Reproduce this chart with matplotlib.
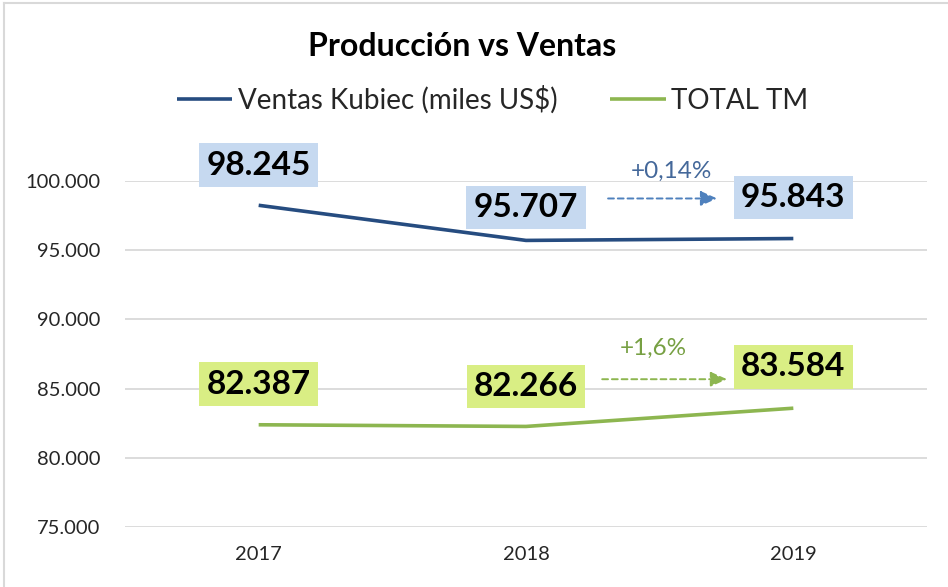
import matplotlib
matplotlib.use("Agg")
import matplotlib.pyplot as plt
from matplotlib.lines import Line2D

plt.rcParams['font.family'] = ['Lato', 'DejaVu Sans']

years = ["2017", "2018", "2019"]
ventas = [98245, 95707, 95843]
total_tm = [82387, 82266, 83584]
ventas_labels = ["98.245", "95.707", "95.843"]
tm_labels = ["82.387", "82.266", "83.584"]
yticks = [75000, 80000, 85000, 90000, 95000, 100000]
ytick_labels = ["75.000", "80.000", "85.000", "90.000", "95.000", "100.000"]
ventas_change = "+0,14%"
tm_change = "+1,6%"

navy = "#264C80"
green = "#8DB650"
blue_box = "#C6D9F0"
green_box = "#D9EE84"
blue_arrow = "#4F81BD"
green_arrow = "#8DB650"

fig = plt.figure(figsize=(9.48, 5.87), dpi=100)
ax = fig.add_axes([125/948, 1-527/587, 802/948, (527-181)/587])

x = list(range(len(years)))
l1, = ax.plot(x, ventas, color=navy, lw=2.6, solid_capstyle='butt', label="Ventas Kubiec (miles US$)")
l2, = ax.plot(x, total_tm, color=green, lw=2.6, solid_capstyle='butt', label="TOTAL TM")

ax.set_xlim(-0.5, 2.5)
ax.set_ylim(75000, 100000)
ax.set_yticks(yticks)
ax.set_yticklabels(ytick_labels)
ax.set_xticks(x)
ax.set_xticklabels(years)
ax.tick_params(axis='y', length=0, pad=18, labelsize=14.5, colors="#262626")
ax.tick_params(axis='x', length=0, pad=14, labelsize=14.5, colors="#262626")
ax.grid(axis='y', color="#D9D9D9", lw=1.3)
ax.set_axisbelow(True)
for s in ax.spines.values():
    s.set_visible(False)

v_off = [40, 33, 41]
t_off = [40.5, 40, 41.5]
for i in x:
    ax.annotate(ventas_labels[i], (i, ventas[i]), xytext=(0, v_off[i]), textcoords='offset pixels',
                ha='center', va='center', fontsize=24, fontweight='bold', color="black",
                bbox=dict(boxstyle='square,pad=0.22', fc=blue_box, ec='none'), annotation_clip=False)
    ax.annotate(tm_labels[i], (i, total_tm[i]), xytext=(0, t_off[i]), textcoords='offset pixels',
                ha='center', va='center', fontsize=24, fontweight='bold', color="black",
                bbox=dict(boxstyle='square,pad=0.22', fc=green_box, ec='none'), annotation_clip=False)

# change arrows
ax.annotate("", xy=(1.715, 98737), xytext=(1.307, 98737),
            arrowprops=dict(arrowstyle='-|>,head_length=1.0,head_width=0.45', color=blue_arrow, lw=1.4,
                            linestyle=(0, (3, 2)), shrinkA=0, shrinkB=0), annotation_clip=False)
ax.text(1.543, 100685, ventas_change, ha='center', va='center', fontsize=17.5, color="#44689A", clip_on=False)
ax.annotate("", xy=(1.752, 85678), xytext=(1.285, 85678),
            arrowprops=dict(arrowstyle='-|>,head_length=1.0,head_width=0.45', color=green_arrow, lw=1.4,
                            linestyle=(0, (3, 2)), shrinkA=0, shrinkB=0), annotation_clip=False)
ax.text(1.475, 87915, tm_change, ha='center', va='center', fontsize=17.5, color="#77A043", clip_on=False)

fig.text(462/948, 1-47/587, "Producción vs Ventas", ha='center', va='center', fontsize=23,
         fontweight='bold', color="black")

fig.legend(handles=[l1, l2], loc='center', bbox_to_anchor=((178+807)/2/948, 1-100/587), ncol=2,
           frameon=False, fontsize=20, handlelength=2.0, handletextpad=0.2, columnspacing=1.9,
           labelcolor="#262626")

# chart border
fig.add_artist(Line2D([4/948, 1], [1-3/587, 1-3/587], transform=fig.transFigure, color="#D9D9D9", lw=1.5))
fig.add_artist(Line2D([4/948, 4/948], [0, 1-3/587], transform=fig.transFigure, color="#D9D9D9", lw=1.5))

fig.savefig("out.png", dpi=100)
